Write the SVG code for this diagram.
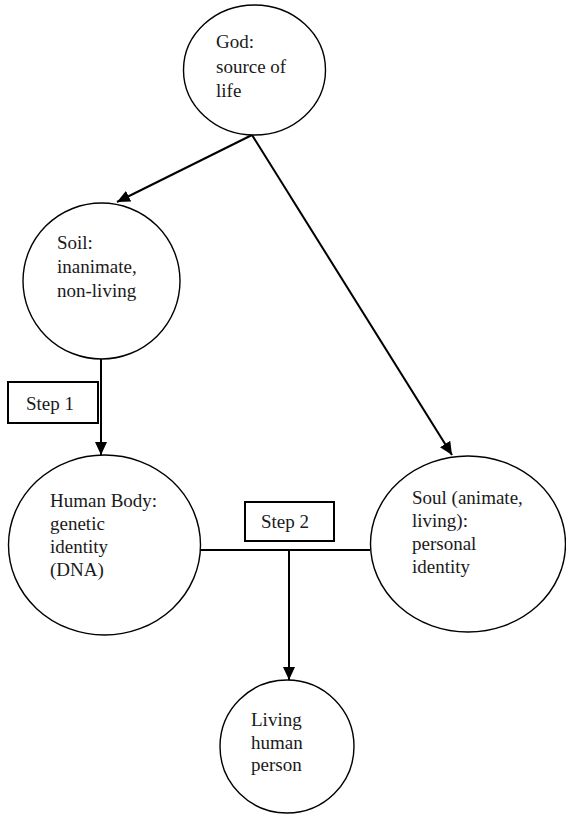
<svg xmlns="http://www.w3.org/2000/svg" width="566" height="814" viewBox="0 0 566 814">
  <style>
    .node { fill: #ffffff; stroke: #000000; stroke-width: 1.4; }
    .box { fill: #ffffff; stroke: #000000; stroke-width: 2; }
    .edge { fill: none; stroke: #000000; stroke-width: 2; }
  </style>
  <defs>
    <marker id="arrow" markerUnits="userSpaceOnUse" markerWidth="14" markerHeight="12" refX="13" refY="6" orient="auto">
      <path d="M0,0 L13,6 L0,12 Z" fill="#000000"/>
    </marker>
  </defs>

  <rect width="566" height="814" fill="#ffffff"/>

  <!-- connectors -->
  <g id="connectors">
    <line class="edge" x1="252" y1="135" x2="117" y2="202" marker-end="url(#arrow)"/>
    <line class="edge" x1="252" y1="135" x2="452" y2="455" marker-end="url(#arrow)"/>
    <line class="edge" x1="101" y1="359" x2="101" y2="455" marker-end="url(#arrow)"/>
    <line class="edge" x1="200" y1="550" x2="370" y2="550"/>
    <line class="edge" x1="289" y1="550" x2="289" y2="680" marker-end="url(#arrow)"/>
  </g>

  <g id="god">
    <ellipse class="node" cx="254.5" cy="70" rx="71" ry="65"/>
    <text x="216" y="48" font-family="Liberation Serif" font-size="19" fill="#1a1a1a">God:</text>
    <text x="216" y="72.5" font-family="Liberation Serif" font-size="19" fill="#1a1a1a">source of</text>
    <text x="216" y="97" font-family="Liberation Serif" font-size="19" fill="#1a1a1a">life</text>
  </g>

  <g id="soil">
    <ellipse class="node" cx="101.5" cy="281" rx="78.5" ry="78"/>
    <text x="57" y="249" font-family="Liberation Serif" font-size="19" fill="#1a1a1a">Soil:</text>
    <text x="57" y="273" font-family="Liberation Serif" font-size="19" fill="#1a1a1a">inanimate,</text>
    <text x="57" y="297" font-family="Liberation Serif" font-size="19" fill="#1a1a1a">non-living</text>
  </g>

  <g id="step1">
    <rect class="box" x="8" y="382" width="90" height="41"/>
    <text x="26" y="410" font-family="Liberation Serif" font-size="19" fill="#1a1a1a">Step 1</text>
  </g>

  <g id="human-body">
    <ellipse class="node" cx="104.5" cy="545" rx="96" ry="90"/>
    <text x="50" y="507" font-family="Liberation Serif" font-size="19" fill="#1a1a1a">Human Body:</text>
    <text x="50" y="530" font-family="Liberation Serif" font-size="19" fill="#1a1a1a">genetic</text>
    <text x="50" y="553" font-family="Liberation Serif" font-size="19" fill="#1a1a1a">identity</text>
    <text x="50" y="576" font-family="Liberation Serif" font-size="19" fill="#1a1a1a">(DNA)</text>
  </g>

  <g id="step2">
    <rect class="box" x="245" y="502" width="89" height="39"/>
    <text x="261" y="528" font-family="Liberation Serif" font-size="19" fill="#1a1a1a">Step 2</text>
  </g>

  <g id="soul">
    <ellipse class="node" cx="468" cy="544" rx="97.5" ry="88"/>
    <text x="412" y="504" font-family="Liberation Serif" font-size="19" fill="#1a1a1a">Soul (animate,</text>
    <text x="412" y="527" font-family="Liberation Serif" font-size="19" fill="#1a1a1a">living):</text>
    <text x="412" y="549.5" font-family="Liberation Serif" font-size="19" fill="#1a1a1a">personal</text>
    <text x="412" y="572.5" font-family="Liberation Serif" font-size="19" fill="#1a1a1a">identity</text>
  </g>

  <g id="living-person">
    <ellipse class="node" cx="287" cy="746.5" rx="67" ry="66.5"/>
    <text x="251" y="726" font-family="Liberation Serif" font-size="19" fill="#1a1a1a">Living</text>
    <text x="251" y="748.5" font-family="Liberation Serif" font-size="19" fill="#1a1a1a">human</text>
    <text x="251" y="771" font-family="Liberation Serif" font-size="19" fill="#1a1a1a">person</text>
  </g>
</svg>
